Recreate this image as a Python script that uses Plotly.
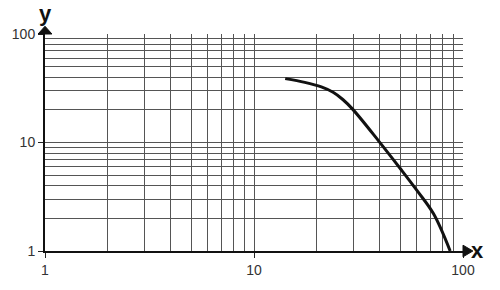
import plotly.graph_objects as go

# ---- data ----
curve_x = [14.1, 17.5, 21.0, 23.9, 26.6, 29.7, 39.7, 50.3, 60.3, 72.3, 86.8]
curve_y = [38.8, 35.8, 32.5, 29.0, 24.9, 20.2, 10.2, 5.7, 3.6, 2.2, 1.0]

major_vals = [1, 10, 100]
major_text = ["1", "10", "100"]
minor_vals = [2, 3, 4, 5, 6, 7, 8, 9, 20, 30, 40, 50, 60, 70, 80, 90]
x_title = "x"
y_title = "y"

W, H = 500, 290
L, R, T, B = 41, 37, 34, 32
pw, ph = W - L - R, H - T - B


def px(xp):
    return (xp - L) / pw


def py(yp):
    return (H - B - yp) / ph


fig = go.Figure()
fig.add_trace(go.Scatter(
    x=curve_x, y=curve_y, mode="lines",
    line=dict(color="#111111", width=3, shape="spline", smoothing=1.0),
    hoverinfo="skip", showlegend=False,
))

grid_col = "#555555"
axis_common = dict(
    type="log",
    tickvals=major_vals, ticktext=major_text,
    ticks="outside", ticklen=5, tickwidth=1, tickcolor="#222222",
    showgrid=True, gridcolor=grid_col, gridwidth=1,
    minor=dict(tickvals=minor_vals, showgrid=True, gridcolor=grid_col,
               gridwidth=1, ticks=""),
    showline=True, linecolor="#111111", linewidth=2,
    zeroline=False,
    tickfont=dict(family="Liberation Sans, Arial, sans-serif", size=14, color="#333333"),
)

fig.update_layout(
    width=W, height=H,
    margin=dict(l=L, r=R, t=T, b=B, pad=0),
    paper_bgcolor="white", plot_bgcolor="white",
    xaxis=dict(range=[0, 2], **axis_common),
    yaxis=dict(range=[0, 2], **axis_common),
    showlegend=False,
)

# arrows
shapes = []
shapes.append(dict(type="line", xref="paper", yref="paper",
                   x0=1.0, y0=0, x1=px(464), y1=0,
                   line=dict(color="#111111", width=2)))
shapes.append(dict(type="path", xref="paper", yref="paper",
                   path=f"M {px(463)} {py(252)} L {px(473)} {py(258)} L {px(463)} {py(264)} Z",
                   fillcolor="#111111", line=dict(color="#111111", width=1)))
shapes.append(dict(type="path", xref="paper", yref="paper",
                   path=f"M {px(34)} {py(34)} L {px(41)} {py(26)} L {px(48)} {py(34)} Z",
                   fillcolor="#111111", line=dict(color="#111111", width=1)))
fig.update_layout(shapes=shapes)

fig.add_annotation(text=f"<b>{y_title}</b>", xref="paper", yref="paper",
                   x=px(41), y=py(13), showarrow=False,
                   font=dict(family="Liberation Sans, Arial, sans-serif", size=22, color="#111111"),
                   xanchor="center", yanchor="middle")
fig.add_annotation(text=f"<b>{x_title}</b>", xref="paper", yref="paper",
                   x=px(478), y=py(257), showarrow=False,
                   font=dict(family="Liberation Sans, Arial, sans-serif", size=22, color="#111111"),
                   xanchor="center", yanchor="middle")

fig.write_html("out.html")
